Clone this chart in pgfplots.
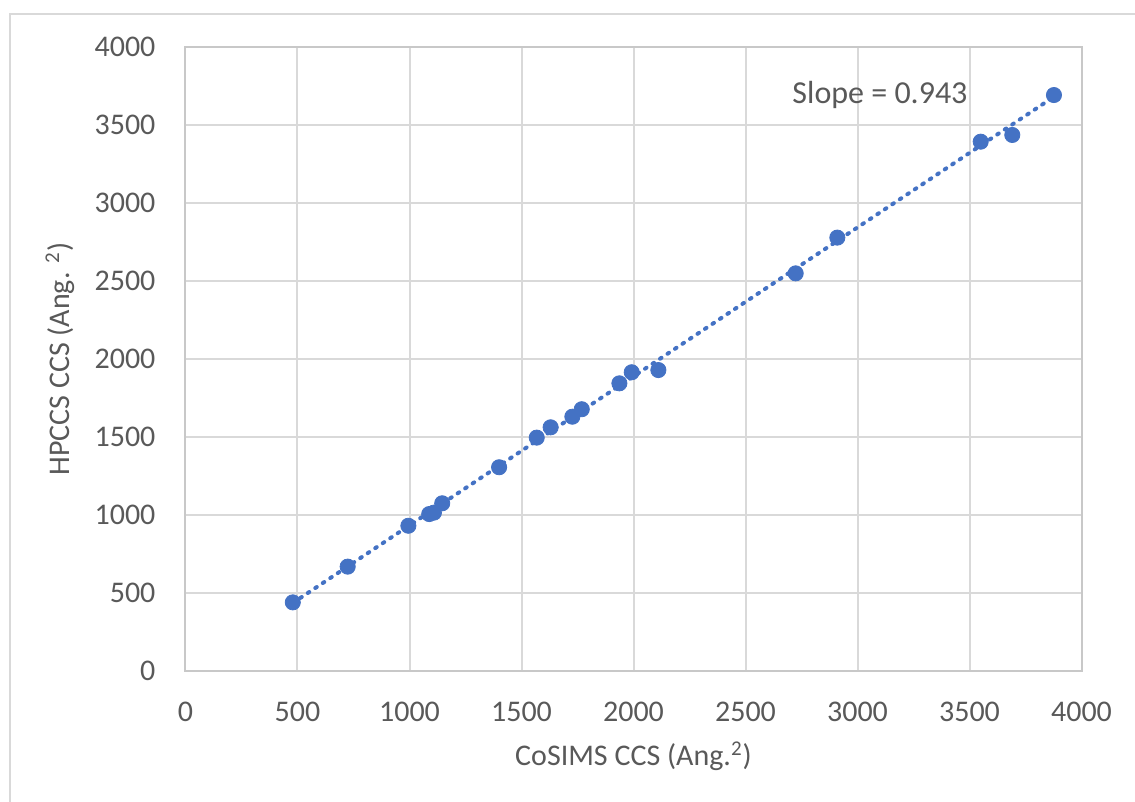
\documentclass[border=0pt]{standalone}
\usepackage{fontspec}
\setmainfont{Carlito}
\usepackage{pgfplots}
\pgfplotsset{compat=1.18}

\definecolor{dotblue}{HTML}{4472C4}
\definecolor{txtgray}{HTML}{595959}
\definecolor{gridgray}{HTML}{D9D9D9}
\definecolor{axgray}{HTML}{C8C8C8}

\begin{document}
\begin{tikzpicture}
% page = 1135x802 px at 0.5pt per px, origin at plot's lower left corner
\useasboundingbox (-92.75pt,-65.5pt) rectangle (474.75pt,335.5pt);
\draw[gridgray, line width=1pt] (-87.75pt,-66pt) -- (-87.75pt,328.5pt) -- (476pt,328.5pt);
\begin{axis}[
    at={(0,0)}, anchor=south west,
    scale only axis,
    width=448pt, height=312pt,
    xmin=0, xmax=4000, ymin=0, ymax=4000,
    xtick={0,500,...,4000}, ytick={0,500,...,4000},
    major tick length=0pt,
    grid=major,
    major grid style={gridgray, line width=1pt},
    axis line style={axgray, line width=1pt},
    /pgf/number format/assume math mode=true,
    /pgf/number format/set thousands separator={},
    tick label style={font=\fontsize{15}{18}\selectfont, text=txtgray},
    yticklabel style={xshift=-11.5pt},
    xticklabel style={yshift=-12pt},
    every axis x label/.style={at={(axis description cs:0.5,0)}, anchor=center,
        yshift=-42.5pt, font=\fontsize{15}{18}\selectfont, text=txtgray},
    every axis y label/.style={at={(axis description cs:0,0.5)}, anchor=center,
        rotate=90, yshift=62.75pt, font=\fontsize{15}{18}\selectfont, text=txtgray},
    xlabel={CoSIMS CCS (Ang.\textsuperscript{2})},
    ylabel={HPCCS CCS (Ang. \textsuperscript{2})},
    clip=false,
]
% trend line
\addplot[dotblue, line width=2pt, line cap=round, dash pattern=on 0.9pt off 3.6pt]
    coordinates {(479,436) (3877,3681)};
% data
\addplot[only marks, mark=*, mark size=3.8pt, color=dotblue, mark options={draw=dotblue, fill=dotblue}]
    coordinates {
    (479,440) (724,669) (995,931) (1088,1006) (1109,1015) (1146,1075)
    (1400,1306) (1568,1496) (1630,1562) (1727,1630) (1769,1678)
    (1937,1844) (1992,1915) (2111,1929) (2724,2549) (2910,2778)
    (3550,3393) (3691,3436) (3877,3692)
    };
\node[anchor=west, inner sep=0pt, text=txtgray, font=\fontsize{16}{19}\selectfont]
    at (axis cs:2708,3692) {Slope = 0.943};
\end{axis}
\end{tikzpicture}
\end{document}
